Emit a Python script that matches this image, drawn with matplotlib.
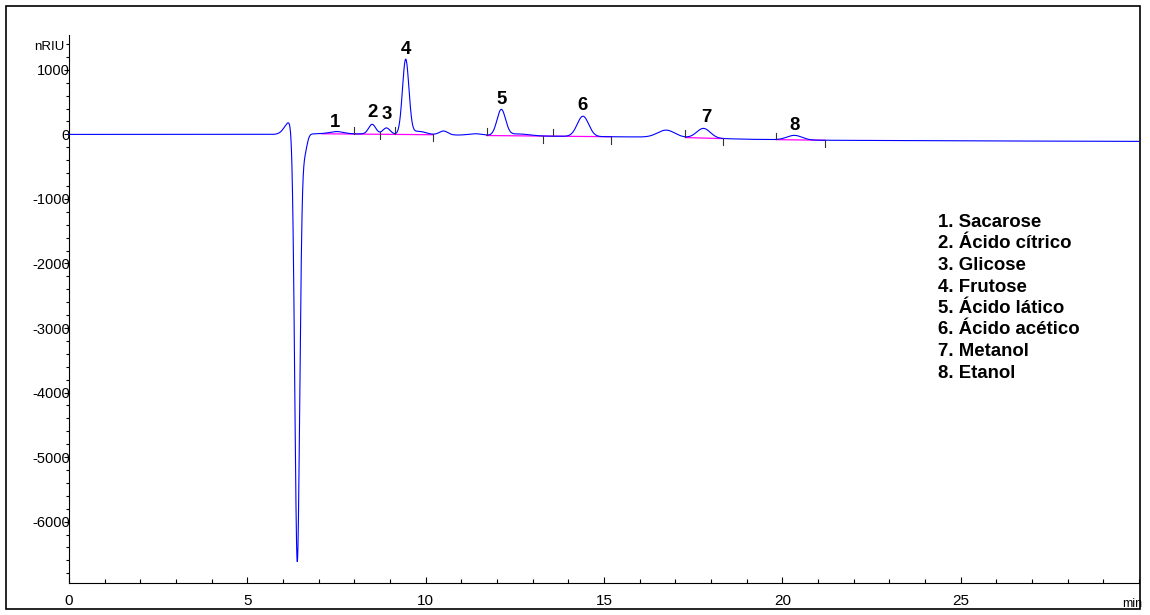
import numpy as np
import matplotlib
matplotlib.use("Agg")
import matplotlib.pyplot as plt
from matplotlib.patches import Rectangle
from matplotlib.ticker import MultipleLocator

plt.rcParams['font.family'] = ['Liberation Sans', 'DejaVu Sans']
plt.rcParams['axes.unicode_minus'] = False

# peaks: retention time (min), height (nRIU), width (min)
peak_times = [6.20, 6.40, 6.60, 7.50, 8.50, 8.90, 9.44, 9.80, 10.50, 11.40,
              12.12, 12.60, 14.41, 16.74, 17.79, 20.34]
peak_heights = [200, -6700, -300, 35, 150, 95, 1155, 50, 60, 25,
                400, 30, 314, 110, 150, 70]
peak_widths = [0.15, 0.07, 0.07, 0.20, 0.10, 0.10, 0.09, 0.20, 0.12, 0.20,
               0.12, 0.30, 0.16, 0.24, 0.19, 0.21]

# baseline drift
drift_times = [0, 6, 7, 9, 12, 15, 17, 19, 21, 25, 30]
drift_values = [0, 0, 10, 5, -20, -35, -45, -75, -90, -100, -108]

# integration baselines (magenta) and integration marks
base_starts = [7.09, 11.71, 17.28, 19.83]
base_ends = [10.20, 15.21, 18.35, 21.20]
mark_times = [7.98, 8.71, 9.13, 10.20, 11.71, 13.28, 13.56, 15.21, 17.28, 18.35, 19.83, 21.20]
mark_side = [1, -1, 1, -1, 1, -1, 1, -1, 1, -1, 1, -1]

# peak numbers
label_text = ['1', '2', '3', '4', '5', '6', '7', '8']
label_x = [7.47, 8.52, 8.92, 9.44, 12.12, 14.40, 17.86, 20.34]
label_y = [118, 264, 232, 1245, 470, 377, 195, 67]

compounds = ['1. Sacarose', '2. Ácido cítrico', '3. Glicose', '4. Frutose',
             '5. Ácido lático', '6. Ácido acético', '7. Metanol', '8. Etanol']

t = np.linspace(0, 30, 9001)
signal = np.interp(t, drift_times, drift_values)
for tr, h, w in zip(peak_times, peak_heights, peak_widths):
    signal = signal + h * np.exp(-0.5 * ((t - tr) / w) ** 2)

fig = plt.figure(figsize=(11.5, 6.15), dpi=100)
ax = fig.add_axes([69/1150, 1-583/615, (1139-69)/1150, (583-35)/615])

ax.plot(t, signal, color='#0000ff', lw=0.8, zorder=3)

for a, b in zip(base_starts, base_ends):
    ya = np.interp(a, drift_times, drift_values)
    yb = np.interp(b, drift_times, drift_values)
    ax.plot([a, b], [ya, yb], color='#ff00ff', lw=0.9, zorder=2)

for m, s in zip(mark_times, mark_side):
    y0 = np.interp(m, t, signal)
    ax.plot([m, m], [y0, y0 + s * 105], color='#333333', lw=0.8, zorder=4)

for txt, x, y in zip(label_text, label_x, label_y):
    ax.text(x, y, txt, ha='center', va='baseline', fontsize=13.4, fontweight='bold')

for i, c in enumerate(compounds):
    fig.text(938/1150, 1 - (227 + 21.5*i)/615, c, ha='left', va='baseline',
             fontsize=13.4, fontweight='bold')

ax.set_xlim(0, 30)
ax.set_ylim(-6950, 1540)
ax.set_xticks([0, 5, 10, 15, 20, 25])
ax.xaxis.set_minor_locator(MultipleLocator(1))
ax.set_yticks(range(-6000, 1001, 1000))
ax.yaxis.set_minor_locator(MultipleLocator(200))

ax.tick_params(axis='x', which='major', direction='in', length=4.3, width=0.8,
               labelsize=11, pad=8)
ax.tick_params(axis='x', which='minor', direction='in', length=2.9, width=0.8)
ax.tick_params(axis='y', which='major', direction='out', length=3.6, width=0.8,
               labelsize=10.5, pad=-4.2)
ax.tick_params(axis='y', which='minor', direction='out', length=2.2, width=0.8)

for side in ['top', 'right']:
    ax.spines[side].set_visible(False)
for side in ['left', 'bottom']:
    ax.spines[side].set_linewidth(0.8)

fig.text(64/1150, 1 - 46.7/615, 'nRIU', ha='right', va='center', fontsize=9.5)
fig.text(1122/1150, 1 - 604/615, 'min', ha='left', va='center', fontsize=9)

fig.patches.append(Rectangle((6/1150, 1 - 609/615), (1140-6)/1150, (609-6)/615,
                             transform=fig.transFigure, fill=False, lw=1.2,
                             ec='black'))

fig.savefig('out.png', dpi=100)
